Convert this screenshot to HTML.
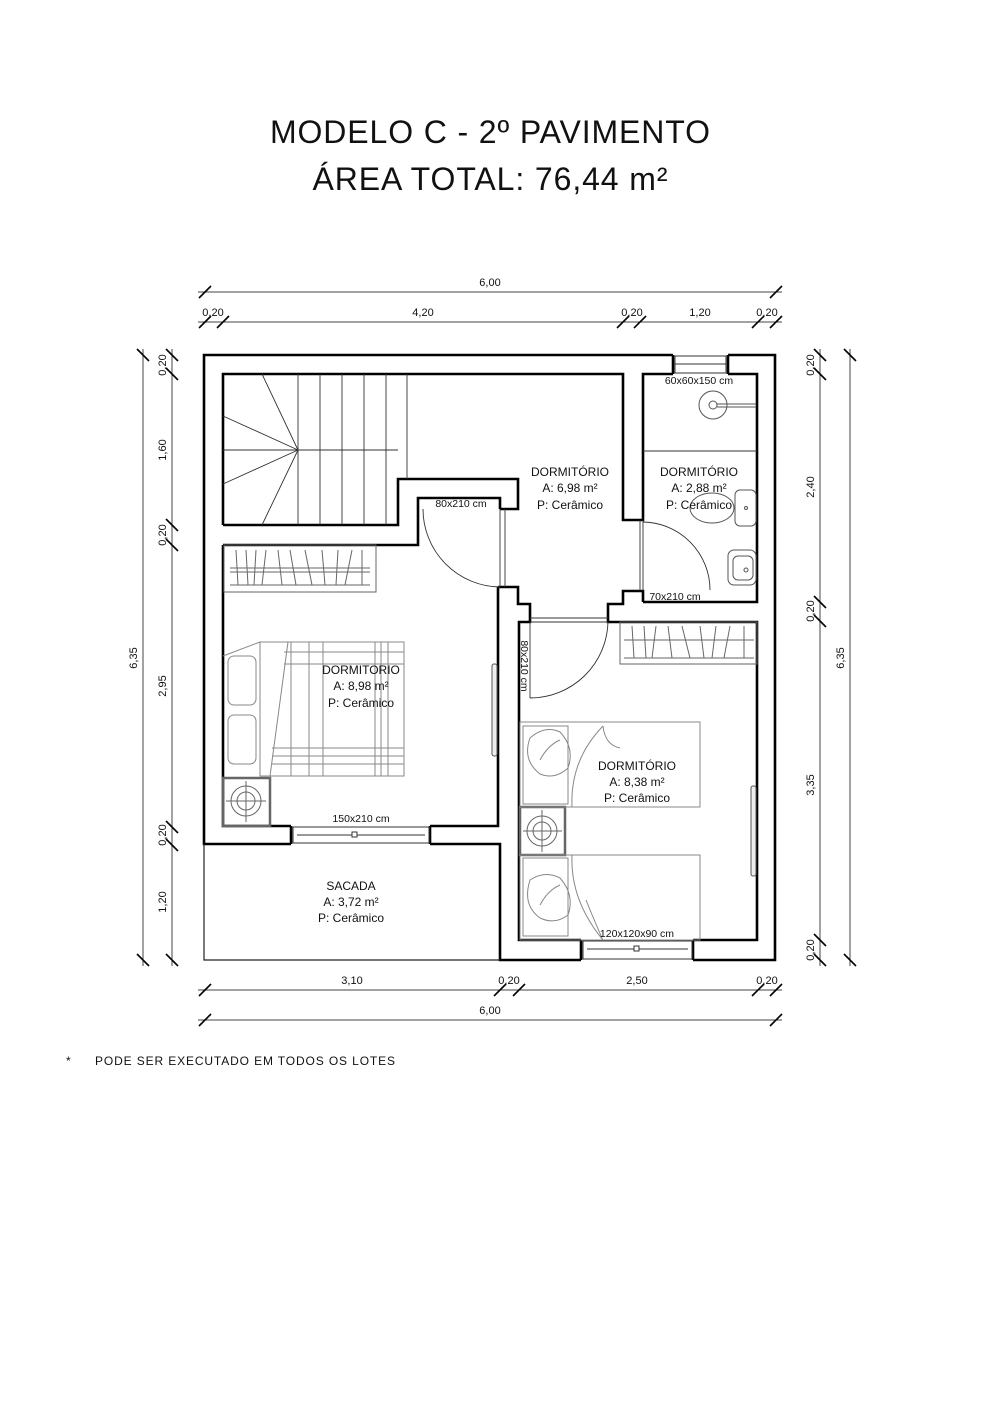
<!DOCTYPE html>
<html><head><meta charset="utf-8"><style>
html,body{margin:0;padding:0;background:#fff;}
svg{display:block;}
text{font-family:"Liberation Sans",Arial,sans-serif;fill:#111;}
</style></head><body>
<svg width="1000" height="1415" viewBox="0 0 1000 1415" xmlns="http://www.w3.org/2000/svg">
<rect width="1000" height="1415" fill="#fff"/>
<text x="490" y="143" font-size="32" text-anchor="middle" textLength="440">MODELO C - 2º PAVIMENTO</text>
<text x="490" y="190" font-size="32" text-anchor="middle" textLength="355">ÁREA TOTAL: 76,44 m²</text>

<!-- dimension lines -->
<g stroke="#444" stroke-width="1" fill="none">
<line x1="198" y1="292" x2="782" y2="292"/>
<line x1="198" y1="322" x2="782" y2="322"/>
<line x1="198" y1="990" x2="782" y2="990"/>
<line x1="198" y1="1020" x2="782" y2="1020"/>
<line x1="143" y1="349" x2="143" y2="966"/>
<line x1="172" y1="349" x2="172" y2="966"/>
<line x1="820" y1="349" x2="820" y2="966"/>
<line x1="850" y1="349" x2="850" y2="966"/>
</g>
<g stroke="#000" stroke-width="1.6">
<!-- top ticks -->
<line x1="199" y1="298" x2="211" y2="286"/><line x1="770" y1="298" x2="782" y2="286"/>
<line x1="199" y1="328" x2="211" y2="316"/><line x1="217" y1="328" x2="229" y2="316"/>
<line x1="617" y1="328" x2="629" y2="316"/><line x1="634" y1="328" x2="646" y2="316"/>
<line x1="752" y1="328" x2="764" y2="316"/><line x1="770" y1="328" x2="782" y2="316"/>
<!-- bottom ticks -->
<line x1="199" y1="996" x2="211" y2="984"/><line x1="494" y1="996" x2="506" y2="984"/>
<line x1="513" y1="996" x2="525" y2="984"/><line x1="752" y1="996" x2="764" y2="984"/>
<line x1="770" y1="996" x2="782" y2="984"/>
<line x1="199" y1="1026" x2="211" y2="1014"/><line x1="770" y1="1026" x2="782" y2="1014"/>
<!-- left ticks -->
<line x1="137" y1="349" x2="149" y2="361"/><line x1="137" y1="954" x2="149" y2="966"/>
<line x1="166" y1="349" x2="178" y2="361"/><line x1="166" y1="368" x2="178" y2="380"/>
<line x1="166" y1="519" x2="178" y2="531"/><line x1="166" y1="539" x2="178" y2="551"/>
<line x1="166" y1="821" x2="178" y2="833"/><line x1="166" y1="839" x2="178" y2="851"/>
<line x1="166" y1="954" x2="178" y2="966"/>
<!-- right ticks -->
<line x1="844" y1="349" x2="856" y2="361"/><line x1="844" y1="954" x2="856" y2="966"/>
<line x1="814" y1="349" x2="826" y2="361"/><line x1="814" y1="368" x2="826" y2="380"/>
<line x1="814" y1="596" x2="826" y2="608"/><line x1="814" y1="615" x2="826" y2="627"/>
<line x1="814" y1="934" x2="826" y2="946"/><line x1="814" y1="954" x2="826" y2="966"/>
</g>
<g font-size="11" text-anchor="middle">
<text x="490" y="286">6,00</text>
<text x="213" y="316">0,20</text><text x="423" y="316">4,20</text>
<text x="632" y="316">0,20</text><text x="700" y="316">1,20</text><text x="767" y="316">0,20</text>
<text x="352" y="984">3,10</text><text x="509" y="984">0,20</text>
<text x="637" y="984">2,50</text><text x="767" y="984">0,20</text>
<text x="490" y="1014">6,00</text>
<text transform="translate(137,658) rotate(-90)">6,35</text>
<text transform="translate(166,365) rotate(-90)">0,20</text>
<text transform="translate(166,450) rotate(-90)">1,60</text>
<text transform="translate(166,535) rotate(-90)">0,20</text>
<text transform="translate(166,686) rotate(-90)">2,95</text>
<text transform="translate(166,835) rotate(-90)">0,20</text>
<text transform="translate(166,902) rotate(-90)">1,20</text>
<text transform="translate(844,658) rotate(-90)">6,35</text>
<text transform="translate(814,365) rotate(-90)">0,20</text>
<text transform="translate(814,487) rotate(-90)">2,40</text>
<text transform="translate(814,611) rotate(-90)">0,20</text>
<text transform="translate(814,785) rotate(-90)">3,35</text>
<text transform="translate(814,950) rotate(-90)">0,20</text>
</g>

<!-- Walls -->
<g stroke="#000" stroke-width="2.6" fill="none" stroke-linejoin="miter">
<!-- outer -->
<polyline points="291,844 204,844 204,355 673,355"/>
<polyline points="728,355 775,355 775,960 693,960"/>
<polyline points="581,960 500,960 500,844 430,844"/>
<!-- inner left bedroom 1 & stairs -->
<polyline points="223,545 223,826 291,826"/>
<polyline points="430,826 498,826 498,587"/>
<polyline points="223,525 223,374 623,374 623,520 643,520 643,374 673,374"/>
<polyline points="728,374 757,374 757,602 643,602"/>
<polyline points="223,525 398,525 398,479 518,479 518,509 500,509"/>
<polyline points="223,545 418,545 418,498 500,498 500,509"/>
<polyline points="498,587 518,587 518,604 530,604 530,622 519,622 519,940 581,940"/>
<polyline points="693,940 757,940 757,622 608,622 608,604 623,604 623,591 643,591 643,602"/>
<polyline points="673,355 673,374"/><polyline points="728,355 728,374"/>
<polyline points="291,826 291,844"/><polyline points="430,826 430,844"/>
<polyline points="581,940 581,960"/><polyline points="693,940 693,960"/>
</g>
<!-- sacada thin -->
<g stroke="#222" stroke-width="1.2" fill="none">
<polyline points="204,844 204,960 500,960"/>
</g>

<!-- stairs -->
<g stroke="#333" stroke-width="0.9" fill="none">
<line x1="298" y1="374" x2="298" y2="525"/>
<line x1="320" y1="374" x2="320" y2="525"/>
<line x1="342" y1="374" x2="342" y2="525"/>
<line x1="364" y1="374" x2="364" y2="525"/>
<line x1="386" y1="374" x2="386" y2="525"/>
<line x1="407" y1="374" x2="407" y2="479"/>
<line x1="223" y1="450" x2="398" y2="450"/>
<line x1="298" y1="450" x2="262" y2="374"/>
<line x1="298" y1="450" x2="223" y2="416"/>
<line x1="298" y1="450" x2="223" y2="484"/>
<line x1="298" y1="450" x2="262" y2="525"/>
</g>

<!-- windows -->
<g stroke="#333" stroke-width="1" fill="#fff">
<rect x="675" y="356" width="51" height="17"/>
<line x1="675" y1="364" x2="726" y2="364"/>
<rect x="293" y="827" width="136" height="16"/>
<line x1="297" y1="835" x2="425" y2="835"/><rect x="352" y="832" width="5" height="5"/>
<rect x="583" y="941" width="109" height="18"/>
<line x1="587" y1="949" x2="688" y2="949"/><rect x="634" y="946" width="5" height="5"/>
</g>

<!-- doors -->
<g stroke="#333" stroke-width="0.9" fill="none">
<line x1="500" y1="509" x2="500" y2="587"/><line x1="505" y1="509" x2="505" y2="587"/>
<path d="M423,509 A78,78 0 0 0 500,587"/>
<line x1="640" y1="520" x2="640" y2="591"/><line x1="643" y1="520" x2="643" y2="591"/>
<path d="M643,522 A68,68 0 0 1 710,590"/>
<line x1="530" y1="618" x2="608" y2="618"/><line x1="530" y1="622" x2="608" y2="622"/>
<path d="M608,622 A78,78 0 0 1 530,698"/><line x1="530" y1="622" x2="530" y2="698"/>
<line x1="643" y1="451" x2="757" y2="451"/>
</g>
<!-- sliding wardrobe doors on walls -->
<g stroke="#555" stroke-width="1" fill="#eee">
<rect x="492" y="664" width="5" height="92" rx="2"/>
<rect x="751" y="786" width="5" height="90" rx="2"/>
</g>

<!-- bath fixtures -->
<g stroke="#555" stroke-width="1" fill="none">
<circle cx="713" cy="405" r="14"/><circle cx="713" cy="405" r="4"/>
<line x1="717" y1="404" x2="756" y2="404"/><line x1="717" y1="407" x2="756" y2="407"/>
<ellipse cx="712" cy="508" rx="22" ry="15"/>
<rect x="735" y="490" width="21" height="36" rx="5"/><circle cx="746" cy="508" r="1.5"/>
<rect x="728" y="550" width="28" height="35" rx="6"/>
<rect x="733" y="556" width="20" height="24" rx="5"/><circle cx="746" cy="570" r="2"/>
</g>

<!-- wardrobes -->
<g stroke="#666" stroke-width="1" fill="none">
<rect x="224" y="545" width="152" height="47"/>
<line x1="230" y1="585" x2="370" y2="585"/>
<line x1="230" y1="572" x2="370" y2="572"/><line x1="230" y1="568" x2="370" y2="568"/>
<line x1="236" y1="550" x2="238" y2="585"/><line x1="246" y1="550" x2="248" y2="585"/>
<line x1="256" y1="550" x2="254" y2="585"/><line x1="266" y1="550" x2="262" y2="585"/>
<line x1="278" y1="550" x2="282" y2="585"/><line x1="290" y1="550" x2="296" y2="585"/>
<line x1="305" y1="550" x2="312" y2="585"/><line x1="322" y1="550" x2="325" y2="585"/>
<line x1="338" y1="550" x2="336" y2="585"/><line x1="352" y1="550" x2="345" y2="585"/>
<line x1="362" y1="550" x2="362" y2="585"/>
<rect x="620" y="622" width="137" height="42"/>
<line x1="624" y1="640" x2="754" y2="640"/><line x1="624" y1="658" x2="754" y2="658"/>
<line x1="632" y1="626" x2="634" y2="658"/><line x1="644" y1="626" x2="646" y2="658"/>
<line x1="656" y1="626" x2="652" y2="658"/><line x1="668" y1="626" x2="672" y2="658"/>
<line x1="682" y1="626" x2="690" y2="658"/><line x1="700" y1="626" x2="704" y2="658"/>
<line x1="716" y1="626" x2="712" y2="658"/><line x1="730" y1="626" x2="724" y2="658"/>
<line x1="744" y1="626" x2="744" y2="658"/>
</g>

<!-- bedroom 1 bed -->
<g stroke="#888" stroke-width="1" fill="none">
<rect x="260" y="642" width="144" height="134"/>
<polygon points="260,642 288,642 270,776 260,776"/>
<rect x="228" y="656" width="28" height="49" rx="6"/>
<rect x="228" y="715" width="28" height="49" rx="6"/>
<line x1="223" y1="656" x2="260" y2="642"/>
<line x1="291" y1="642" x2="291" y2="776"/><line x1="309" y1="642" x2="309" y2="776"/>
<line x1="323" y1="642" x2="323" y2="776"/><line x1="375" y1="642" x2="375" y2="776"/>
<line x1="381" y1="642" x2="381" y2="776"/><line x1="388" y1="642" x2="388" y2="776"/>
<line x1="284" y1="652" x2="404" y2="652"/><line x1="284" y1="664" x2="404" y2="664"/>
<line x1="272" y1="748" x2="404" y2="748"/><line x1="272" y1="756" x2="404" y2="756"/>
<line x1="272" y1="764" x2="404" y2="764"/>
</g>
<g stroke="#666" stroke-width="1" fill="none">
<rect x="223" y="778" width="47" height="48" stroke-width="2.5"/>
<circle cx="246" cy="801" r="15"/><circle cx="246" cy="801" r="9"/>
<line x1="226" y1="801" x2="266" y2="801"/><line x1="246" y1="781" x2="246" y2="822"/>
<rect x="520" y="807" width="45" height="48" stroke-width="2.5"/>
<circle cx="542" cy="831" r="15"/><circle cx="542" cy="831" r="9"/>
<line x1="523" y1="831" x2="562" y2="831"/><line x1="542" y1="810" x2="542" y2="852"/>
</g>

<!-- bedroom 2 beds -->
<g stroke="#888" stroke-width="1" fill="none">
<rect x="520" y="722" width="180" height="85"/>
<rect x="520" y="855" width="180" height="85"/>
<rect x="523" y="726" width="45" height="78"/>
<rect x="523" y="858" width="45" height="78"/>
<path d="M530,738 Q545,725 560,732 Q575,748 568,768 Q555,780 540,774 Q522,760 530,738Z"/>
<path d="M530,880 Q545,870 560,878 Q575,895 568,915 Q555,925 540,918 Q522,905 530,880Z"/>
<path d="M603,726 Q570,760 572,807"/><path d="M603,726 Q605,745 620,748"/>
<path d="M572,855 Q570,900 603,940"/><path d="M586,900 Q592,915 602,938"/>
<path d="M540,760 Q548,745 560,740"/><path d="M540,905 Q548,890 560,885"/>
</g>

<!-- room labels -->
<g font-size="12" text-anchor="middle">
<text x="570" y="476">DORMITÓRIO</text><text x="570" y="492">A: 6,98 m²</text><text x="570" y="509">P: Cerâmico</text>
<text x="699" y="476">DORMITÓRIO</text><text x="699" y="492">A: 2,88 m²</text><text x="699" y="509">P: Cerâmico</text>
<text x="361" y="674">DORMITORIO</text><text x="361" y="690">A: 8,98 m²</text><text x="361" y="707">P: Cerâmico</text>
<text x="637" y="770">DORMITÓRIO</text><text x="637" y="786">A: 8,38 m²</text><text x="637" y="802">P: Cerâmico</text>
<text x="351" y="890">SACADA</text><text x="351" y="906">A: 3,72 m²</text><text x="351" y="922">P: Cerâmico</text>
</g>
<g font-size="10.5" text-anchor="middle">
<text x="699" y="384">60x60x150 cm</text>
<text x="461" y="507">80x210 cm</text>
<text x="675" y="600">70x210 cm</text>
<text x="361" y="822">150x210 cm</text>
<text x="637" y="937">120x120x90 cm</text>
<text transform="translate(521,666) rotate(90)">80x210 cm</text>
</g>

<text x="66" y="1065" font-size="12">*</text>
<text x="95" y="1065" font-size="12" textLength="300">PODE SER EXECUTADO EM TODOS OS LOTES</text>
</svg>
</body></html>
